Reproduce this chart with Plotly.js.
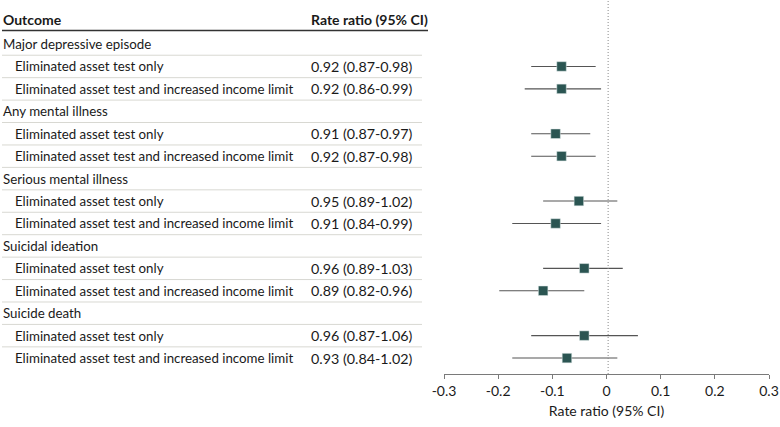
<!DOCTYPE html>
<html>
<head>
<meta charset="utf-8">
<script src="https://cdn.plot.ly/plotly-3.0.1.min.js"></script>
<style>html,body{margin:0;padding:0;background:#fff}#chart{width:780px;height:427px}</style>
</head>
<body>
<div id="chart"></div>
<script>
// ---- data ----
const outcomes = ["Major depressive episode", "Any mental illness", "Serious mental illness", "Suicidal ideation", "Suicide death"];
const policies = ["Eliminated asset test only", "Eliminated asset test and increased income limit"];
const rrText = [
  "0.92 (0.87-0.98)", "0.92 (0.86-0.99)",
  "0.91 (0.87-0.97)", "0.92 (0.87-0.98)",
  "0.95 (0.89-1.02)", "0.91 (0.84-0.99)",
  "0.96 (0.89-1.03)", "0.89 (0.82-0.96)",
  "0.96 (0.87-1.06)", "0.93 (0.84-1.02)"
];
// plotted positions (log rate ratio)
const est   = [-0.083, -0.083, -0.094, -0.083, -0.051, -0.094, -0.041, -0.117, -0.041, -0.073];
const lower = [-0.139, -0.151, -0.139, -0.139, -0.117, -0.174, -0.117, -0.198, -0.139, -0.174];
const upper = [-0.020, -0.010, -0.030, -0.020,  0.020, -0.010,  0.030, -0.041,  0.058,  0.020];
const tickVals = [-0.3, -0.2, -0.1, 0, 0.1, 0.2, 0.3];
const tickText = ["-0.3", "-0.2", "-0.1", "0", "0.1", "0.2", "0.3"];
const colHeaders = ["Outcome", "Rate ratio (95% CI)"];
const xTitle = "Rate ratio (95% CI)";

// ---- build rows ----
const W = 780;
const FONT = "Lato, 'Open Sans', sans-serif";
const TXT = '#1a1a1a';
const rows = [];
let k = 0;
outcomes.forEach(o => {
  rows.push({label: o, indent: false, value: "", idx: -1});
  policies.forEach(p => {
    rows.push({label: p, indent: true, value: rrText[k], idx: k});
    k++;
  });
});
const ptY = [];
rows.forEach((r, i) => { if (r.idx >= 0) ptY[r.idx] = i; });

const annotations = [];
const shapes = [];
const px = v => v / W;
const valX = 309;
rows.forEach((r, i) => {
  annotations.push({xref: 'paper', yref: 'y', x: px(r.indent ? 12.5 : 0.5), y: i, text: r.label,
    showarrow: false, xanchor: 'left', yanchor: 'middle', font: {family: FONT, size: 13.3, color: TXT}});
  if (r.value) annotations.push({xref: 'paper', yref: 'y', x: px(valX), y: i, text: r.value,
    showarrow: false, xanchor: 'left', yanchor: 'middle', font: {family: FONT, size: 14.3, color: TXT}});
  if (i < rows.length - 1) shapes.push({type: 'line', xref: 'paper', yref: 'y', x0: px(2), x1: px(422), y0: i + 0.5, y1: i + 0.5,
    line: {color: '#d8d8d2', width: 1}});
});
annotations.push({xref: 'paper', yref: 'y', x: px(0.5), y: -1.1, text: '<b>' + colHeaders[0] + '</b>', showarrow: false,
  xanchor: 'left', yanchor: 'middle', font: {family: FONT, size: 14, color: TXT}});
annotations.push({xref: 'paper', yref: 'y', x: px(valX), y: -1.1, text: '<b>' + colHeaders[1] + '</b>', showarrow: false,
  xanchor: 'left', yanchor: 'middle', font: {family: FONT, size: 14, color: TXT}});
shapes.push({type: 'line', xref: 'paper', yref: 'y', x0: px(2), x1: px(428), y0: -0.6, y1: -0.6, line: {color: '#333', width: 1.5}});
shapes.push({type: 'line', xref: 'x', yref: 'paper', x0: 0.003, x1: 0.003, y0: 0, y1: 1, line: {color: '#8a8a8a', width: 1, dash: '1px,2px'}});

const trace = {
  type: 'scatter', mode: 'markers', x: est, y: ptY,
  marker: {symbol: 'square', size: 9.5, color: '#2b5552', line: {color: '#dfe9e8', width: 0.5}},
  error_x: {type: 'data', symmetric: false,
    array: est.map((e, i) => upper[i] - e), arrayminus: est.map((e, i) => e - lower[i]),
    color: '#555', thickness: 1.1, width: 0},
  hoverinfo: 'skip', showlegend: false
};

const layout = {
  width: 780, height: 427, margin: {l: 0, r: 0, t: 0, b: 53},
  paper_bgcolor: '#fff', plot_bgcolor: '#fff',
  font: {family: FONT, size: 14, color: TXT},
  xaxis: {domain: [444 / W, 769 / W], range: [-0.3, 0.3], tickvals: tickVals, ticktext: tickText,
    showline: true, linecolor: '#7a7a7a', linewidth: 1, ticks: 'outside', ticklen: 4, tickcolor: '#7a7a7a',
    showgrid: false, zeroline: false, tickfont: {family: FONT, size: 14, color: TXT},
    title: {text: xTitle, font: {family: FONT, size: 14, color: TXT}, standoff: 8}},
  yaxis: {range: [14.71, -1.962], visible: false, showgrid: false, zeroline: false},
  annotations: annotations, shapes: shapes
};
Plotly.newPlot('chart', [trace], layout, {displayModeBar: false, staticPlot: true});
</script>
</body>
</html>
